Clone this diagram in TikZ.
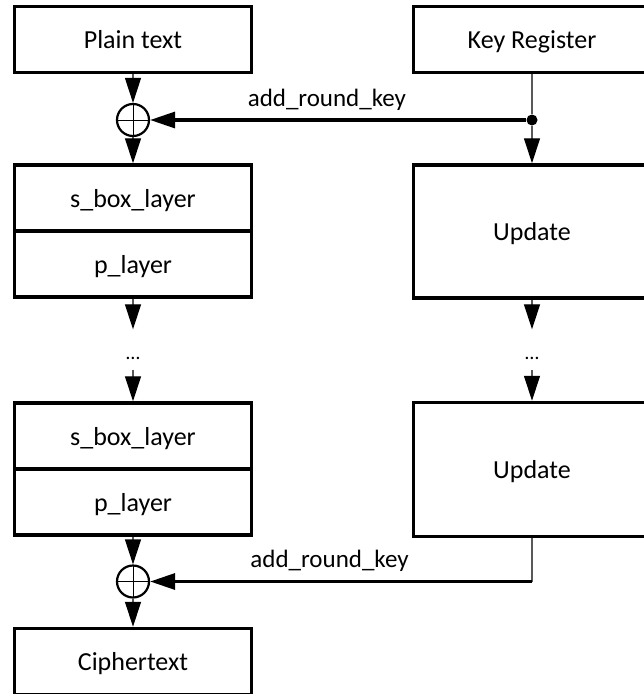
\documentclass[tikz,border=0pt]{standalone}
\usepackage{fontspec}
\setmainfont{Carlito}
\usetikzlibrary{positioning,arrows.meta}

\begin{document}
\begin{tikzpicture}[x=1pt,y=1pt,>={Triangle[length=25pt,width=16pt,color=black]},node distance=66pt,on grid,
 blk/.style={draw,line width=3.5pt,minimum width=237pt,minimum height=66pt,inner sep=0pt,
  text height=18pt,text depth=0pt,font=\fontsize{26}{30}\selectfont},
 xorop/.style={circle,draw,line width=2.2pt,minimum size=32pt,inner sep=0pt,
  path picture={\draw[line width=1pt] (path picture bounding box.north) -- (path picture bounding box.south)
   (path picture bounding box.west) -- (path picture bounding box.east);}},
 gap/.style={inner sep=0pt,minimum height=22pt,font=\fontsize{20}{20}\selectfont},
 tapdot/.style={circle,fill,minimum size=11pt,inner sep=0pt},
 wire/.style={line width=1.2pt,black!65},
 keybus/.style={line width=3.2pt},
 lbl/.style={inner sep=0pt,font=\fontsize{25}{30}\selectfont}]
\path[use as bounding box,clip] (0,0) rectangle (644,-694);
% data path
\node[blk] (plain) at (133,-39.5) {Plain text};
\node[xorop] (xa) [below=80.5pt of plain] {};
\node[blk] (sba) [below=78pt of xa] {s\_box\_layer};
\node[blk] (pla) [below=of sba] {p\_layer};
\node[gap] (dla) [below=94.5pt of pla] {\ldots};
\node[blk] (sbb) [below=77.5pt of dla] {s\_box\_layer};
\node[blk] (plb) [below=of sbb] {p\_layer};
\node[xorop] (xb) [below=79.5pt of plb] {};
\node[blk] (cipher) [below=80pt of xb] {Ciphertext};
% key schedule
\node[blk] (keyreg) [right=399pt of plain] {Key Register};
\node[tapdot] (tap) [below=80.5pt of keyreg] {};
\node[blk,minimum height=133pt] (upa) [below=192pt of keyreg] {Update};
\node[gap] (dlb) [right=399pt of dla] {\ldots};
\node[blk,minimum height=134pt] (upb) [below=111pt of dlb] {Update};
\coordinate (turn) at (upb |- xb);

\draw[->,wire] (plain) -- (xa);
\draw[->,wire] (xa) -- (sba);
\draw[->,wire,shorten >=18pt] (pla) -- (dla);
\draw[->,wire] (dla) -- (sbb);
\draw[->,wire] (plb) -- (xb);
\draw[->,wire] (xb) -- (cipher);
\draw[wire] (keyreg) -- (tap);
\draw[->,wire] (tap) -- (upa);
\draw[->,wire,shorten >=18pt] (upa) -- (dlb);
\draw[->,wire] (dlb) -- (upb);
\draw[->,keybus] (tap) -- node[lbl,above=8pt,pos=0.53] {add\_round\_key} (xa);
\draw[wire] (upb) -- (turn);
\draw[->,keybus] (turn) -- node[lbl,above=8pt,pos=0.53] {add\_round\_key} (xb);
\end{tikzpicture}
\end{document}
